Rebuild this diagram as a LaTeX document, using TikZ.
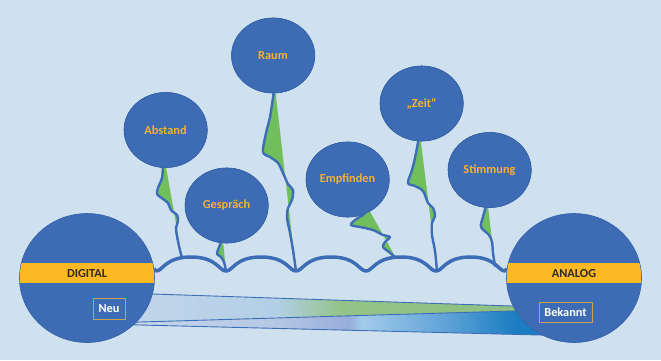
\documentclass[tikz,border=0pt]{standalone}
\usepackage{fontspec}
\setmainfont{Carlito}
\usetikzlibrary{shapes.geometric,calc}
\definecolor{bg}{HTML}{CFE1EE}
\definecolor{circ}{HTML}{3D6CB4}
\definecolor{circedge}{HTML}{3562AA}
\definecolor{wave}{HTML}{3E6DB7}
\definecolor{leaf}{HTML}{70BE5C}
\definecolor{barYellow}{HTML}{FCB923}
\definecolor{gold}{HTML}{F7B22C}
\definecolor{darktext}{HTML}{2E2A25}
\definecolor{boxedge}{HTML}{C9A24E}
\definecolor{ubA}{HTML}{C3D6EA}
\definecolor{ubB}{HTML}{B2CFE7}
\definecolor{ubG}{HTML}{93C388}
\definecolor{ubGG}{HTML}{8DC080}
\definecolor{lbA}{HTML}{C6D7EA}
\definecolor{lbB}{HTML}{B4C7E4}
\definecolor{lbC}{HTML}{97ADDA}
\definecolor{lbD}{HTML}{A2CBEA}
\definecolor{lbE}{HTML}{5FA2D7}
\definecolor{lbF}{HTML}{1A7DC1}
\pgfdeclarehorizontalshading{upperband}{100bp}{color(0bp)=(ubA); color(25bp)=(ubA); color(44bp)=(ubB); color(52bp)=(ubG); color(75bp)=(ubGG); color(100bp)=(ubGG)}
\pgfdeclarehorizontalshading{lowerband}{100bp}{color(0bp)=(lbA); color(25bp)=(lbA); color(43bp)=(lbB); color(51bp)=(lbC); color(52.5bp)=(lbD); color(62bp)=(lbE); color(70bp)=(lbF); color(100bp)=(lbF)}
\tikzset{
  bubble/.style={ellipse, fill=circ, draw=circedge, line width=0.6pt, inner sep=0pt,
    minimum width=83pt, minimum height=75pt, text=gold, font=\bfseries\fontsize{12.3}{14}\selectfont},
  bubbletext/.style={text=gold, font=\bfseries\fontsize{12.3}{14}\selectfont, inner sep=0pt},
  bigball/.style={ellipse, fill=circ, draw=circedge, line width=0.6pt, inner sep=0pt,
    minimum width=135pt, minimum height=129pt},
  barlabel/.style={text=darktext, font=\bfseries\fontsize{12.3}{14}\selectfont, inner sep=0pt},
  tagbox/.style={draw=boxedge, line width=1pt, text=white, inner sep=0pt,
    font=\bfseries\fontsize{12.3}{14}\selectfont},
  stemline/.style={draw=wave, line width=2.4pt, line join=round, line cap=round},
  leaffill/.style={fill=leaf},
  waveline/.style={draw=wave, line width=3.5pt, line join=round},
  bandedge/.style={draw=wave, line width=0.9pt}
}
\begin{document}
\begin{tikzpicture}[x=1pt,y=-1pt]
\useasboundingbox (0,0) rectangle (661,360);
\fill[bg] (0,0) rectangle (661,360);

% bands
\path[shading=upperband] (120,292.9) -- (530,306.6) -- (530,310.5) -- (120,322.6) -- cycle;
\path[shading=lowerband] (120,322.6) -- (560,309.6) -- (560,335.5) -- (120,324.5) -- cycle;
\draw[bandedge] (120,292.9) -- (530,306.6);
\draw[bandedge] (120,322.6) -- (560,309.6);
\draw[bandedge] (120,324.5) -- (560,335.5);

% bubbles (positioned first, redrawn on top of the stems)
\path
  (165.5,130) node[bubble] (abstand) {}
  (226.5,205.5) node[bubble] (gesp) {}
  (273,55.5) node[bubble] (raum) {}
  (347.5,179.5) node[bubble] (empf) {}
  (421.5,103.5) node[bubble] (zeit) {}
  (489.5,170) node[bubble] (stim) {};

\coordinate (wA) at (182,258);
\coordinate (wG) at (226,271);
\coordinate (wR) at (296,271);
\coordinate (wE) at (396,258);
\coordinate (wZ) at (437,271);
\coordinate (wS) at (495,266);

% stems
\fill[leaffill] plot[smooth,tension=0.5] coordinates {(abstand.-94) (162,178) (158,188) (157,194) (163,199) (168,203) (171,210) (177,215) (178,221) (176,228) (177,236) (179,246) (wA)} -- (abstand.-89) -- cycle;
\draw[stemline] plot[smooth,tension=0.5] coordinates {(abstand.-94) (162,178) (158,188) (157,194) (163,199) (168,203) (171,210) (177,215) (178,221) (176,228) (177,236) (179,246) (wA)};

\fill[leaffill] plot[smooth,tension=0.5] coordinates {(gesp.-99) (218,250) (217,254) (221,257) (224,262) (225,266) (wG)} -- (gesp.-95) -- cycle;
\draw[stemline] plot[smooth,tension=0.5] coordinates {(gesp.-99) (218,250) (217,254) (221,257) (224,262) (225,266) (wG)};

\fill[leaffill] plot[smooth,tension=0.5] coordinates {(raum.-89) (270,117) (266,133) (263,152) (270,157) (278,163) (283,173) (288,184) (293,190) (292,200) (288,208) (287,218) (290,233) (293,250) (wR)} -- (raum.-86) -- cycle;
\draw[stemline] plot[smooth,tension=0.5] coordinates {(raum.-89) (270,117) (266,133) (263,152) (270,157) (278,163) (283,173) (288,184) (293,190) (292,200) (288,208) (287,218) (290,233) (293,250) (wR)};

\fill[leaffill] plot[smooth,tension=0.5] coordinates {(empf.-64) (355,220) (351,225) (360,227) (373,230) (383,235) (390,237) (385,242) (383,247) (389,252) (wE)} -- (empf.-55) -- cycle;
\draw[stemline] plot[smooth,tension=0.5] coordinates {(empf.-64) (355,220) (351,225) (360,227) (373,230) (383,235) (390,237) (385,242) (383,247) (389,252) (wE)};

\fill[leaffill] plot[smooth,tension=0.5] coordinates {(zeit.-95) (415,158) (412,170) (408,183) (415,186) (423,191) (428,203) (433,208) (435,216) (432,223) (432,235) (435,251) (wZ)} -- (zeit.-91) -- cycle;
\draw[stemline] plot[smooth,tension=0.5] coordinates {(zeit.-95) (415,158) (412,170) (408,183) (415,186) (423,191) (428,203) (433,208) (435,216) (432,223) (432,235) (435,251) (wZ)};

\fill[leaffill] plot[smooth,tension=0.5] coordinates {(stim.-96) (483,217) (481,227) (489,235) (492,242) (493,253) (wS)} -- (stim.-92) -- cycle;
\draw[stemline] plot[smooth,tension=0.5] coordinates {(stim.-96) (483,217) (481,227) (489,235) (492,242) (493,253) (wS)};

% redraw bubbles on top
\foreach \n in {abstand,gesp,raum,empf,zeit,stim} {
  \path[fill=circ, draw=circedge, line width=0.6pt] (\n.east) arc[start angle=0, end angle=360, x radius=41.5pt, y radius=37.5pt];
}
\node[bubbletext] (tAbstand) at (abstand) {Abstand};
\node[bubbletext] (tGesp) at (gesp) {Gespräch};
\node[bubbletext] (tRaum) at (raum) {Raum};
\node[bubbletext] (tEmpf) at (empf) {Empfinden};
\node[bubbletext] (tZeit) at (zeit) {„Zeit“};
\node[bubbletext] (tStim) at (stim) {Stimmung};

% big balls
\node[bigball] (dig) at (87,278) {};
\node[bigball] (ana) at (574,278) {};

% wave
\draw[waveline] (dig.8) -- (156,271)
  .. controls (163,271) and (165,257) .. (191,257) .. controls (217,257) and (219,271) .. (226,271)
  .. controls (233,271) and (235,257) .. (261,257) .. controls (287,257) and (289,271) .. (296,271)
  .. controls (303,271) and (305,257) .. (331,257) .. controls (357,257) and (359,271) .. (366,271)
  .. controls (373,271) and (375,257) .. (401,257) .. controls (427,257) and (429,271) .. (436,271)
  .. controls (443,271) and (445,257) .. (470.5,257) .. controls (496,257) and (498,271) .. (505,271)
  -- (ana.172);

% yellow bars
\begin{scope}
  \clip (87,278) ellipse [x radius=67.2pt, y radius=64.2pt];
  \path[fill=barYellow] (10,262.5) rectangle (170,283);
\end{scope}
\begin{scope}
  \clip (574,278) ellipse [x radius=67.2pt, y radius=64.2pt];
  \path[fill=barYellow] (495,262.5) rectangle (650,283);
\end{scope}
\node[barlabel] (diglab) at (87,273) {DIGITAL};
\node[barlabel] (analab) at (574,273) {ANALOG};

\node[tagbox, minimum width=32pt, minimum height=21pt] (neu) at (109,308.5) {Neu};
\node[tagbox, minimum width=53pt, minimum height=20pt] (bek) at (565.5,312) {Bekannt};
\end{tikzpicture}
\end{document}
